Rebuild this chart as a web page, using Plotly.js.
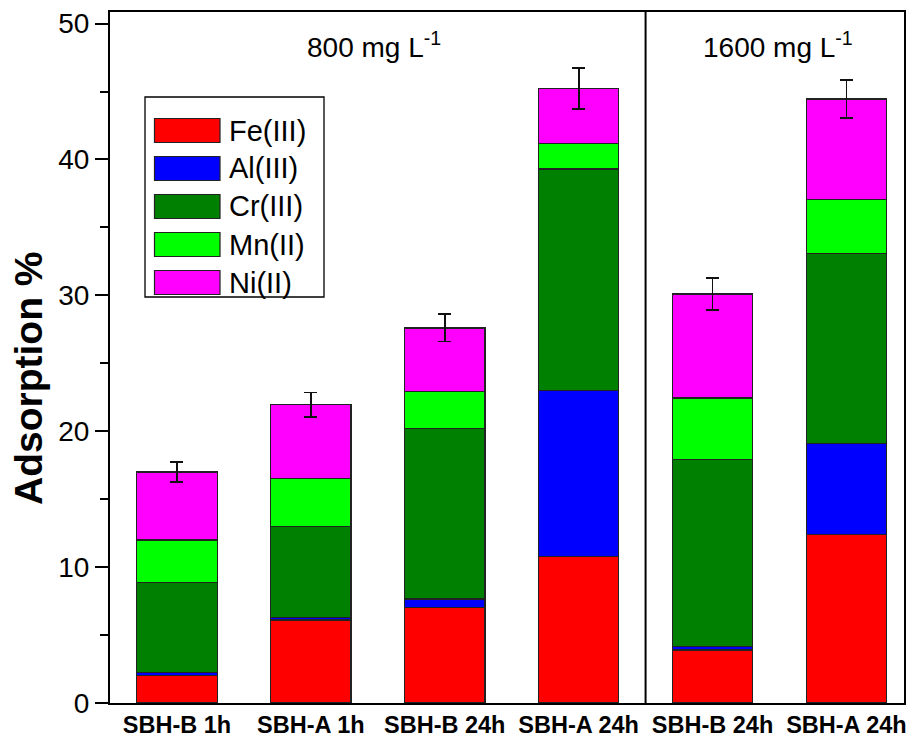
<!DOCTYPE html>
<html>
<head>
<meta charset="utf-8">
<script src="https://cdn.plot.ly/plotly-3.0.1.min.js"></script>
<style>html,body{margin:0;padding:0;background:#fff;}#chart{width:907px;height:737px;}</style>
</head>
<body>
<div id="chart"></div>
<script>
// ---- data ----
const categories = ["SBH-B 1h", "SBH-A 1h", "SBH-B 24h", "SBH-A 24h", "SBH-B 24h ", "SBH-A 24h "];
const tickLabels = ["SBH-B 1h", "SBH-A 1h", "SBH-B 24h", "SBH-A 24h", "SBH-B 24h", "SBH-A 24h"];
const seriesNames = ["Fe(III)", "Al(III)", "Cr(III)", "Mn(II)", "Ni(II)"];
const seriesColors = ["#FF0000", "#0000FF", "#008000", "#00FF00", "#FF00FF"];
const fe = [2.04, 6.11, 7.02, 10.8, 3.9, 12.42];
const al = [0.22, 0.20, 0.64, 12.2, 0.25, 6.70];
const cr = [6.63, 6.69, 12.54, 16.3, 13.75, 13.98];
const mn = [3.11, 3.5, 2.7, 1.86, 4.54, 3.94];
const ni = [5.0, 5.45, 4.7, 4.04, 7.66, 7.41];
const totalErr = [0.75, 0.9, 1.0, 1.5, 1.2, 1.4];
const groupLabels = ["800 mg L<sup>-1</sup>", "1600 mg L<sup>-1</sup>"];
const groupCenters = [1.47, 4.49];
const groupDivider = 3.5;
const yTitle = "Adsorption %";

const seriesValues = [fe, al, cr, mn, ni];
const FONT = "Liberation Sans, Arial, sans-serif";

const traces = seriesValues.map((vals, i) => {
  const t = {
    type: "bar",
    name: seriesNames[i],
    x: categories,
    y: vals,
    width: 0.6,
    marker: { color: seriesColors[i], line: { color: "#222", width: 1.2 } },
    showlegend: false,
    hoverinfo: "skip"
  };
  if (i === seriesValues.length - 1) {
    t.error_y = { type: "data", array: totalErr, visible: true, color: "#111", thickness: 1.8, width: 6.5 };
  }
  return t;
});

// plot-area geometry (pixels) for a hand-built legend
const L = 110, R = 904, T = 12, B = 703;
const px = v => (v - L) / (R - L);
const py = v => (B - v) / (B - T);

const shapes = [
  { type: "line", xref: "x", yref: "paper", x0: groupDivider, x1: groupDivider, y0: 0, y1: 1,
    line: { color: "#000", width: 2 } },
  { type: "rect", xref: "paper", yref: "paper", x0: px(145), x1: px(324), y0: py(297), y1: py(97),
    line: { color: "#000", width: 1.3 }, fillcolor: "rgba(0,0,0,0)" }
];
const annotations = [];
seriesNames.forEach((nm, i) => {
  const top = 118.5 + i * 38;
  shapes.push({ type: "rect", xref: "paper", yref: "paper", x0: px(154.5), x1: px(220), y0: py(top + 24), y1: py(top),
    fillcolor: seriesColors[i], line: { color: "#222", width: 1.2 } });
  annotations.push({ xref: "paper", yref: "paper", x: px(227), y: py(top + 12), text: nm, showarrow: false,
    xanchor: "left", yanchor: "middle", font: { family: FONT, size: 29, color: "#000" } });
});
groupLabels.forEach((g, i) => {
  annotations.push({ xref: "x", yref: "paper", x: groupCenters[i], y: py(45), text: g, showarrow: false,
    xanchor: "center", yanchor: "middle", font: { family: FONT, size: 28, color: "#000" } });
});
annotations.push({ xref: "paper", yref: "paper", x: px(28), y: py(379), text: "<b>" + yTitle + "</b>", showarrow: false,
  textangle: -90, xanchor: "center", yanchor: "middle", font: { family: FONT, size: 39, color: "#000" } });

const layout = {
  width: 907, height: 737,
  margin: { l: L, r: 907 - R, t: T, b: 737 - B },
  barmode: "stack",
  paper_bgcolor: "#fff", plot_bgcolor: "#fff",
  showlegend: false,
  xaxis: {
    type: "category",
    range: [-0.5, 5.43],
    tickvals: categories, ticktext: tickLabels,
    ticks: "", showgrid: false, zeroline: false,
    showline: true, linecolor: "#000", linewidth: 2, mirror: true,
    tickfont: { family: FONT, size: 23.5, color: "#000", weight: "bold" },
    ticklabelstandoff: 0
  },
  yaxis: {
    range: [0, 50.85],
    tickvals: [0, 10, 20, 30, 40, 50],
    ticks: "outside", ticklen: 13, tickwidth: 2, tickcolor: "#000",
    minor: { tickvals: [5, 15, 25, 35, 45], ticks: "outside", ticklen: 8, tickwidth: 2, tickcolor: "#000", showgrid: false },
    showgrid: false, zeroline: false,
    showline: true, linecolor: "#000", linewidth: 2, mirror: true,
    tickfont: { family: FONT, size: 28, color: "#000" }
  },
  shapes: shapes,
  annotations: annotations,
  font: { family: FONT }
};

Plotly.newPlot("chart", traces, layout, { staticPlot: true, displayModeBar: false });
</script>
</body>
</html>
